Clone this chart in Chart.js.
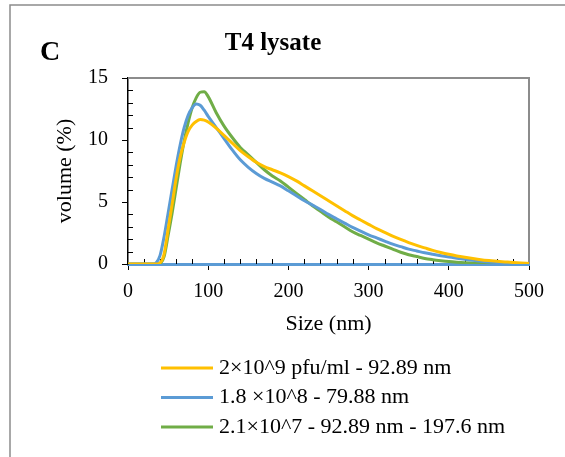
<!DOCTYPE html>
<html lang="en">
<head>
    <meta charset="UTF-8">
    <title>T4 lysate</title>
    <script src="https://cdn.jsdelivr.net/npm/chart.js"></script>
    <style>
        body { margin: 0; background: #fff; }
        #wrap { width: 565px; height: 457px; }
    </style>
</head>
<body>
    <div id="wrap"><canvas id="sizeChart" width="565" height="457"></canvas></div>
    <script>
        // particle size (nm)
        const sizes = [0, 10, 20, 30, 35, 40, 45, 50, 55, 60, 65, 70, 75, 80, 85, 90, 95, 100,
            110, 120, 130, 140, 150, 160, 170, 180, 190, 200, 210, 220, 230, 240, 250, 260, 270, 280, 290, 300,
            310, 320, 330, 340, 350, 360, 370, 380, 390, 400, 410, 420, 430, 440, 450, 460, 470, 480, 490, 500];

        const seriesNames = ['2\u00d710^9 pfu/ml - 92.89 nm', '1.8 \u00d710^8 - 79.88 nm', '2.1\u00d710^7 - 92.89 nm - 197.6 nm'];

        // volume (%)
        const vol2e9 = [0, 0, 0, 0, 0, 0.1, 0.8, 2.8, 4.8, 6.9, 8.6, 9.8, 10.7, 11.2, 11.5, 11.65, 11.6, 11.45,
            10.95, 10.35, 9.75, 9.15, 8.65, 8.2, 7.85, 7.6, 7.35, 7.05, 6.7, 6.3, 5.9, 5.5, 5.1, 4.7, 4.3, 3.9, 3.55, 3.2,
            2.85, 2.55, 2.25, 1.98, 1.73, 1.5, 1.3, 1.1, 0.93, 0.78, 0.65, 0.54, 0.44, 0.35, 0.28, 0.22, 0.17, 0.12, 0.08, 0.05];
        const vol18e8 = [0, 0, 0, 0, 0.1, 0.7, 2.2, 4.1, 6.0, 7.9, 9.6, 11.0, 12.0, 12.6, 12.9, 12.8, 12.4, 11.9,
            11.0, 10.1, 9.2, 8.4, 7.8, 7.3, 6.9, 6.6, 6.3, 5.9, 5.5, 5.1, 4.75, 4.4, 4.0, 3.65, 3.3, 2.95, 2.65, 2.35,
            2.1, 1.85, 1.6, 1.4, 1.2, 1.05, 0.9, 0.78, 0.67, 0.57, 0.47, 0.38, 0.3, 0.23, 0.17, 0.12, 0.08, 0.05, 0.03, 0.02];
        const vol21e7 = [0, 0, 0, 0, 0, 0.05, 0.6, 2.3, 4.1, 6.1, 8.1, 9.9, 11.4, 12.6, 13.4, 13.85, 13.9, 13.5,
            12.2, 11.1, 10.2, 9.4, 8.8, 8.2, 7.6, 7.1, 6.7, 6.2, 5.7, 5.2, 4.7, 4.25, 3.8, 3.4, 3.0, 2.6, 2.3, 2.0,
            1.7, 1.45, 1.2, 0.95, 0.75, 0.6, 0.45, 0.35, 0.27, 0.2, 0.15, 0.11, 0.08, 0.06, 0.05, 0.04, 0.03, 0.03, 0.02, 0.02];

        const colors = ['#FFC000', '#5B9BD5', '#70AD47'];
        const serif = "'Liberation Serif', 'Times New Roman', serif";

        function toPoints(vals) {
            return sizes.map((s, i) => ({ x: s, y: vals[i] }));
        }

        // frame, minor ticks, panel letter and legend
        const decor = {
            id: 'decor',
            beforeDraw(chart) {
                const ctx = chart.ctx;
                ctx.save();
                ctx.fillStyle = '#fff';
                ctx.fillRect(0, 0, chart.width, chart.height);
                ctx.strokeStyle = '#8c8c8c';
                ctx.lineWidth = 1.5;
                ctx.beginPath();
                ctx.moveTo(10, chart.height);
                ctx.lineTo(10, 5);
                ctx.lineTo(chart.width, 5);
                ctx.stroke();
                ctx.restore();
            },
            beforeDatasetsDraw(chart) {
                const ctx = chart.ctx;
                const a = chart.chartArea;
                const xs = chart.scales.x, ys = chart.scales.y;
                ctx.save();
                ctx.strokeStyle = '#8c8c8c';
                ctx.lineWidth = 2;
                ctx.beginPath();
                ctx.moveTo(a.left, a.top);
                ctx.lineTo(a.right, a.top);
                ctx.lineTo(a.right, a.bottom);
                ctx.stroke();
                ctx.strokeStyle = '#000';
                ctx.lineWidth = 1;
                ctx.beginPath();
                for (let v = 1; v < 15; v++) {
                    if (v % 5 === 0) continue;
                    const y = Math.round(ys.getPixelForValue(v)) + 0.5;
                    ctx.moveTo(a.left, y);
                    ctx.lineTo(a.left + 5, y);
                }
                for (let s = 20; s < 500; s += 20) {
                    if (s % 100 === 0) continue;
                    const x = Math.round(xs.getPixelForValue(s)) + 0.5;
                    ctx.moveTo(x, a.bottom);
                    ctx.lineTo(x, a.bottom - 5);
                }
                ctx.stroke();
                ctx.restore();
            },
            afterDraw(chart) {
                const ctx = chart.ctx;
                ctx.save();
                ctx.fillStyle = '#000';
                ctx.font = 'bold 28px ' + serif;
                ctx.textAlign = 'center';
                ctx.textBaseline = 'middle';
                ctx.fillText('C', 50, 53);
                ctx.font = '22px ' + serif;
                ctx.textAlign = 'left';
                chart.data.datasets.forEach((ds, i) => {
                    const y = 368 + i * 29.5;
                    ctx.strokeStyle = ds.borderColor;
                    ctx.lineWidth = 3;
                    ctx.beginPath();
                    ctx.moveTo(161, y);
                    ctx.lineTo(213, y);
                    ctx.stroke();
                    ctx.fillText(ds.label, 219, y);
                });
                ctx.restore();
            }
        };

        const ctx = document.getElementById('sizeChart').getContext('2d');
        const sizeChart = new Chart(ctx, {
            type: 'line',
            data: {
                datasets: [vol2e9, vol18e8, vol21e7].map((vals, i) => ({
                    label: seriesNames[i],
                    data: toPoints(vals),
                    borderColor: colors[i],
                    backgroundColor: colors[i],
                    borderWidth: 3,
                    pointRadius: 0,
                    cubicInterpolationMode: 'monotone',
                    fill: false
                }))
            },
            options: {
                responsive: false,
                animation: false,
                layout: { padding: { left: 17, right: 36, top: 0, bottom: 117 } },
                plugins: {
                    legend: { display: false },
                    tooltip: { enabled: false },
                    title: {
                        display: true,
                        text: 'T4 lysate',
                        color: '#000',
                        font: { family: serif, size: 25, weight: 'bold', lineHeight: 1.2 },
                        padding: { top: 29, bottom: 19 }
                    }
                },
                scales: {
                    x: {
                        type: 'linear',
                        min: 0,
                        max: 500,
                        border: { color: '#5B9BD5', width: 3 },
                        grid: { drawOnChartArea: false, drawTicks: true, tickLength: 6, color: '#000' },
                        ticks: { stepSize: 100, padding: 10, color: '#000', font: { family: serif, size: 20 } },
                        title: { display: true, text: 'Size (nm)', color: '#000', font: { family: serif, size: 22, lineHeight: 1.2 }, padding: { top: 0, bottom: 3 } },
                        afterFit(scale) { scale.height = 76; }
                    },
                    y: {
                        min: 0,
                        max: 15,
                        border: { color: '#000', width: 1.5 },
                        grid: { drawOnChartArea: false, drawTicks: true, tickLength: 6, color: '#000' },
                        ticks: { stepSize: 5, padding: 14, color: '#000', font: { family: serif, size: 20 } },
                        title: { display: true, text: 'volume (%)', color: '#000', font: { family: serif, size: 22, lineHeight: 1.2 }, padding: { top: 35, bottom: 0 } },
                        afterFit(scale) { scale.width = 111; }
                    }
                }
            },
            plugins: [decor]
        });
    </script>
</body>
</html>
